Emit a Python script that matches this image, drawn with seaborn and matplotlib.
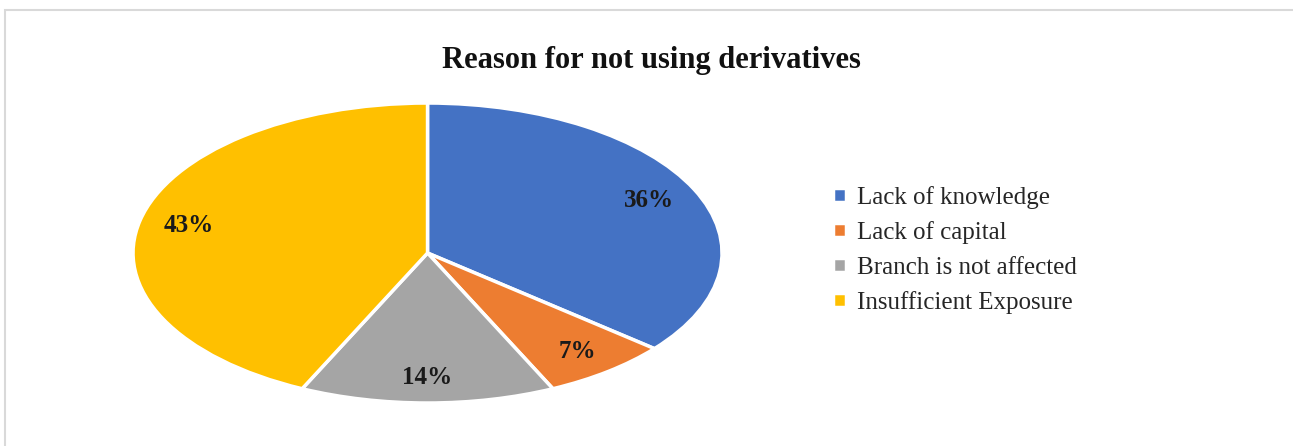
import matplotlib.pyplot as plt
import seaborn as sns
from matplotlib.patches import Rectangle

# data
reasons = ['Lack of knowledge', 'Lack of capital', 'Branch is not affected', 'Insufficient Exposure']
shares = [36, 7, 14, 43]
slice_colors = ['#4472C4', '#ED7D31', '#A5A5A5', '#FFC000']
chart_title = 'Reason for not using derivatives'

sns.set_theme(style='white')
plt.rcParams['font.family'] = ['Liberation Serif', 'DejaVu Serif']

fig = plt.figure(figsize=(12.93, 4.46), dpi=100)
fig.patch.set_facecolor('white')

# pie drawn stretched (ellipse) like the original
ax = fig.add_axes([0.1029, 0.0964, 0.4555, 0.6726])
wedges, texts, autotexts = ax.pie(
    shares,
    colors=sns.color_palette(slice_colors),
    startangle=90,
    counterclock=False,
    autopct='%d%%',
    pctdistance=0.83,
    wedgeprops={'edgecolor': 'white', 'linewidth': 2.5},
    textprops={'fontsize': 18, 'fontweight': 'bold', 'color': '#1a1a1a'},
)
ax.set_aspect('auto')
ax.set_xlim(-1, 1)
ax.set_ylim(-1, 1)
ax.axis('off')

fig.text(0.504, 0.865, chart_title, ha='center', va='center',
         fontsize=22, fontweight='bold', color='#111111')

fig.legend(wedges, reasons, loc='center left',
           bbox_to_anchor=(0.627, 0.44), frameon=False,
           fontsize=18, handlelength=0.5, handleheight=0.5,
           handletextpad=0.45, labelspacing=0.5)

# light frame around the chart area
fig.add_artist(Rectangle((0.004, -0.1), 1.1, 1.078, transform=fig.transFigure,
                         fill=False, edgecolor='#D9D9D9', linewidth=1.5))

plt.savefig('out.png', dpi=100)
plt.close()
